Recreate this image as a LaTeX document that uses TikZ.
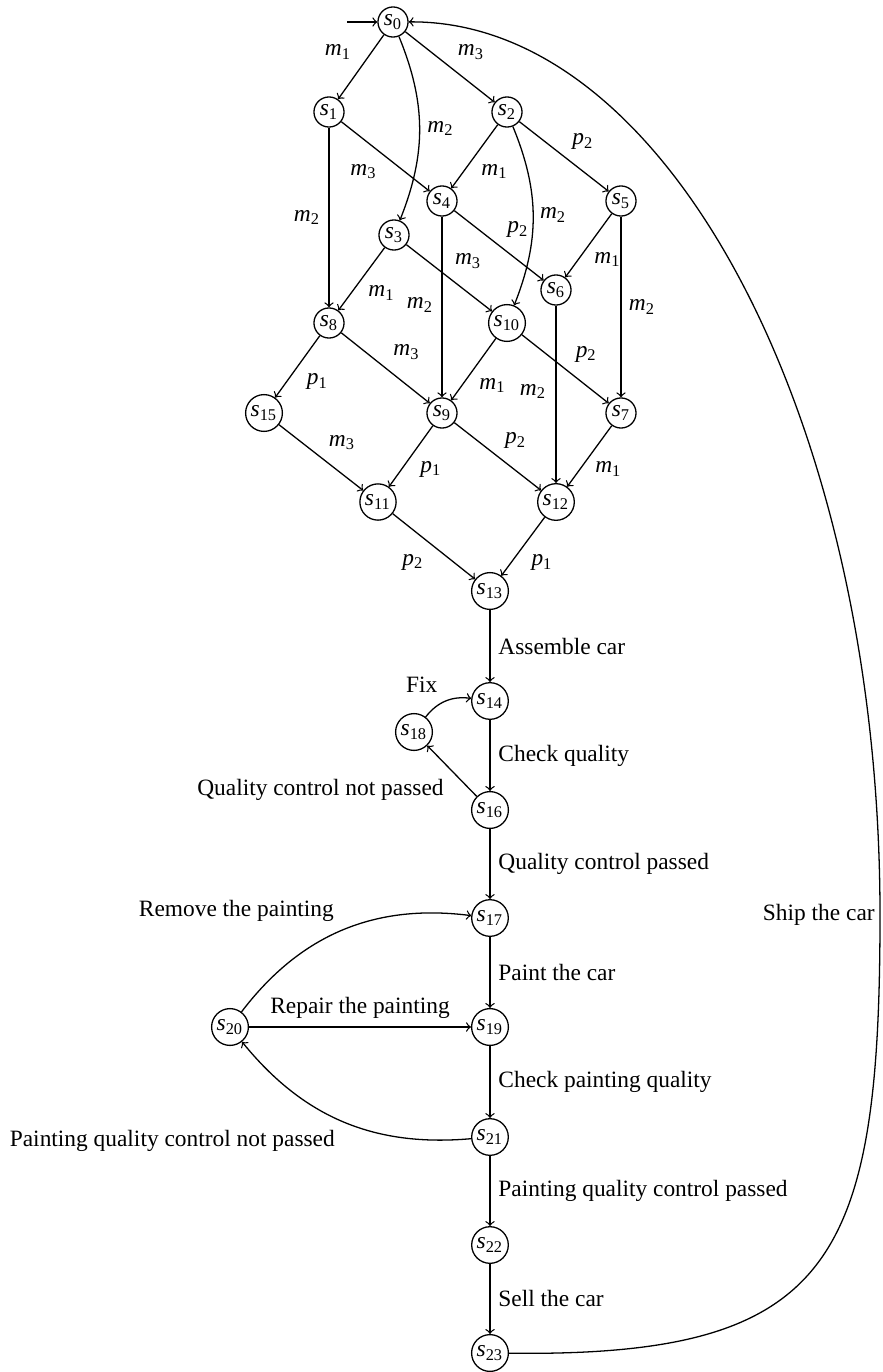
\documentclass[tikz,border=0pt]{standalone}
\usepackage{fontspec}
\setmainfont{Liberation Serif}
\newcommand{\St}[1]{\textit{s}\textsubscript{#1}}
\newcommand{\Lb}[2]{\textit{#1}\textsubscript{#2}}
\begin{document}
\begin{tikzpicture}[x=0.4274pt,y=-0.4274pt, line width=0.55pt,
  state/.style={circle, draw, inner sep=1pt},
  edge/.style={->},
  lbl/.style={inner sep=0pt}]
\useasboundingbox (0,0) rectangle (882,1372);
% states
\node[state] (s0)  at (393,22)  {\St{0}};
\node[state] (s1)  at (329,112) {\St{1}};
\node[state] (s2)  at (507,112) {\St{2}};
\node[state] (s3)  at (394,235) {\St{3}};
\node[state] (s4)  at (442,201) {\St{4}};
\node[state] (s5)  at (621,201) {\St{5}};
\node[state] (s6)  at (556,290) {\St{6}};
\node[state] (s8)  at (329,323) {\St{8}};
\node[state] (s10) at (507,323) {\St{10}};
\node[state] (s15) at (264,413) {\St{15}};
\node[state] (s9)  at (442,413) {\St{9}};
\node[state] (s7)  at (621,413) {\St{7}};
\node[state] (s11) at (378,502) {\St{11}};
\node[state] (s12) at (556,502) {\St{12}};
\node[state] (s13) at (490,591) {\St{13}};
\node[state] (s14) at (490,701) {\St{14}};
\node[state] (s18) at (414,732) {\St{18}};
\node[state] (s16) at (490,810) {\St{16}};
\node[state] (s17) at (490,918) {\St{17}};
\node[state] (s19) at (490,1027) {\St{19}};
\node[state] (s20) at (230,1027) {\St{20}};
\node[state] (s21) at (490,1137) {\St{21}};
\node[state] (s22) at (490,1245) {\St{22}};
\node[state] (s23) at (490,1353) {\St{23}};
% initial
\coordinate (init) at (347,22);
\draw[edge] (init) -- (s0);
% lattice
\draw[edge] (s0) -- node[lbl, shift={(-23,-15)}] {\Lb{m}{1}} (s1);
\draw[edge] (s0) -- node[lbl, shift={(21,-15)}] {\Lb{m}{3}} (s2);
\draw[edge] (s0) to[bend left=22] node[lbl, shift={(21,0)}] {\Lb{m}{2}} (s3);
\draw[edge] (s1) -- node[lbl, shift={(-22,15)}] {\Lb{m}{3}} (s4);
\draw[edge] (s2) -- node[lbl, shift={(20,15)}] {\Lb{m}{1}} (s4);
\draw[edge] (s2) -- node[lbl, shift={(19,-15)}] {\Lb{p}{2}} (s5);
\draw[edge] (s1) -- node[lbl, shift={(-22,0)}] {\Lb{m}{2}} (s8);
\draw[edge] (s4) -- node[lbl, shift={(19,-16)}] {\Lb{p}{2}} (s6);
\draw[edge] (s2) to[bend left=22] node[lbl, shift={(20,-1)}] {\Lb{m}{2}} (s10);
\draw[edge] (s3) -- node[lbl, shift={(19,-17)}] {\Lb{m}{3}} (s10);
\draw[edge] (s5) -- node[lbl, shift={(19,14)}] {\Lb{m}{1}} (s6);
\draw[edge] (s3) -- node[lbl, shift={(20,14)}] {\Lb{m}{1}} (s8);
\draw[edge] (s4) -- node[lbl, shift={(-22,-2)}] {\Lb{m}{2}} (s9);
\draw[edge] (s5) -- node[lbl, shift={(21,0)}] {\Lb{m}{2}} (s7);
\draw[edge] (s6) -- node[lbl, shift={(-23,-3)}] {\Lb{m}{2}} (s12);
\draw[edge] (s8) -- node[lbl, shift={(21,-16)}] {\Lb{m}{3}} (s9);
\draw[edge] (s10) -- node[lbl, shift={(19,16)}] {\Lb{m}{1}} (s9);
\draw[edge] (s10) -- node[lbl, shift={(21,-15)}] {\Lb{p}{2}} (s7);
\draw[edge] (s8) -- node[lbl, shift={(20,15)}] {\Lb{p}{1}} (s15);
\draw[edge] (s15) -- node[lbl, shift={(21,-15)}] {\Lb{m}{3}} (s11);
\draw[edge] (s9) -- node[lbl, shift={(20,13)}] {\Lb{p}{1}} (s11);
\draw[edge] (s9) -- node[lbl, shift={(18,-16)}] {\Lb{p}{2}} (s12);
\draw[edge] (s7) -- node[lbl, shift={(19,13)}] {\Lb{m}{1}} (s12);
\draw[edge] (s11) -- node[lbl, shift={(-21,16)}] {\Lb{p}{2}} (s13);
\draw[edge] (s12) -- node[lbl, shift={(19,16)}] {\Lb{p}{1}} (s13);
% process chain
\draw[edge] (s13) -- node[right] {Assemble car} (s14);
\draw[edge] (s14) -- node[right] {Check quality} (s16);
\draw[edge] (s16) -- node[below left] {Quality control not passed} (s18);
\draw[edge] (s18) to[bend left=30] node[above left] {Fix} (s14);
\draw[edge] (s16) -- node[right] {Quality control passed} (s17);
\draw[edge] (s17) -- node[right] {Paint the car} (s19);
\draw[edge] (s20) to[bend left=30] node[above left] {Remove the painting} (s17);
\draw[edge] (s20) -- node[above] {Repair the painting} (s19);
\draw[edge] (s19) -- node[right] {Check painting quality} (s21);
\draw[edge] (s21) to[bend left=28] node[below left] {Painting quality control not passed} (s20);
\draw[edge] (s21) -- node[right] {Painting quality control passed} (s22);
\draw[edge] (s22) -- node[right] {Sell the car} (s23);
% ship back
\coordinate (shipmid) at (880,915);
\draw[edge] (s23) .. controls (830,1357) and (880,1265) .. (shipmid)
  node[anchor=east, inner sep=2pt] {Ship the car}
  .. controls (880,425) and (670,20) .. (s0);
\end{tikzpicture}
\end{document}
